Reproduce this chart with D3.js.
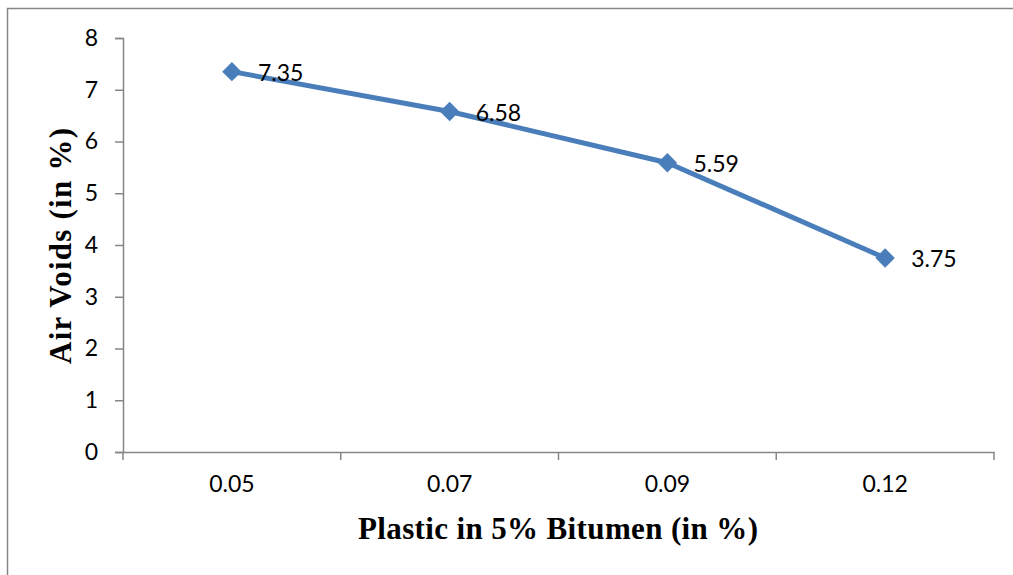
<!DOCTYPE html>
<html>
<head>
<meta charset="utf-8">
<script src="https://cdn.jsdelivr.net/npm/d3@7"></script>
<style>
  body { margin: 0; background: #fff; }
  svg { display: block; }
</style>
</head>
<body>
<div id="chart"></div>
<script>
// data
var categories = ['0.05', '0.07', '0.09', '0.12'];
var airVoids = [7.35, 6.58, 5.59, 3.75];
var yTicks = [0, 1, 2, 3, 4, 5, 6, 7, 8];

var W = 1013, H = 575;
var margin = { top: 38, right: 19, bottom: 123, left: 123 };
var width = W - margin.left - margin.right,
    height = H - margin.top - margin.bottom;

var svg = d3.select('#chart').append('svg')
  .attr('width', W)
  .attr('height', H);

// chart border
svg.append('rect')
  .attr('x', 7.5).attr('y', 8.5)
  .attr('width', W + 10).attr('height', H + 10)
  .attr('fill', 'none')
  .attr('stroke', '#868686')
  .attr('stroke-width', 1.5);

var g = svg.append('g')
  .attr('transform', 'translate(' + margin.left + ',' + margin.top + ')');

// scales
var x = d3.scaleBand().domain(categories).range([0, width]);
var y = d3.scaleLinear().domain([0, 8]).range([height, 0]);

var axisColor = '#868686';
var tickFont = 'Lato, "Open Sans", sans-serif';
var titleFont = '"Liberation Serif", "Times New Roman", serif';

// y axis
var yAxis = d3.axisLeft(y).tickValues(yTicks).tickSize(8).tickPadding(17);
var gY = g.append('g').call(yAxis);
gY.select('.domain').attr('stroke', axisColor).attr('stroke-width', 1.5);
gY.selectAll('.tick line').attr('stroke', axisColor).attr('stroke-width', 1.5);
gY.selectAll('.tick text')
  .attr('fill', '#000')
  .style('font-family', tickFont)
  .style('font-size', '23px');

// x axis
var xAxis = d3.axisBottom(x).tickSize(0).tickPadding(24);
var gX = g.append('g')
  .attr('transform', 'translate(0,' + height + ')')
  .call(xAxis);
gX.select('.domain').attr('stroke', axisColor).attr('stroke-width', 1.5);
gX.selectAll('.tick text')
  .attr('fill', '#000')
  .style('font-family', tickFont)
  .style('font-size', '23px');

// category boundary ticks
var bounds = categories.map(function(c) { return x(c); }).concat([x.range()[1]]);
gX.selectAll('.bound')
  .data(bounds)
  .enter().append('line')
  .attr('class', 'bound')
  .attr('x1', function(d) { return d; })
  .attr('x2', function(d) { return d; })
  .attr('y1', 0)
  .attr('y2', 8)
  .attr('stroke', axisColor)
  .attr('stroke-width', 1.5);

var cx = function(d, i) { return x(categories[i]) + x.bandwidth() / 2; };

// line
var line = d3.line()
  .x(function(d, i) { return cx(d, i); })
  .y(function(d) { return y(d); });

g.append('path')
  .datum(airVoids)
  .attr('d', line)
  .attr('fill', 'none')
  .attr('stroke', '#4a7ebb')
  .attr('stroke-width', 5)
  .attr('stroke-linejoin', 'round');

// diamond markers
g.selectAll('.marker')
  .data(airVoids)
  .enter().append('path')
  .attr('class', 'marker')
  .attr('d', d3.symbol().type(d3.symbolDiamond2).size(240))
  .attr('transform', function(d, i) {
    return 'translate(' + cx(d, i) + ',' + y(d) + ')';
  })
  .attr('fill', '#4a7ebb');

// data labels
g.selectAll('.lbl')
  .data(airVoids)
  .enter().append('text')
  .attr('class', 'lbl')
  .attr('x', function(d, i) { return cx(d, i) + 26; })
  .attr('y', function(d) { return y(d) + 1; })
  .attr('dy', '0.35em')
  .style('font-family', tickFont)
  .style('font-size', '23px')
  .text(function(d) { return d.toFixed(2); });

// axis titles
svg.append('text')
  .attr('transform', 'translate(71,' + 246 + ') rotate(-90)')
  .attr('text-anchor', 'middle')
  .attr('textLength', 236)
  .attr('lengthAdjust', 'spacing')
  .style('font-family', titleFont)
  .style('font-weight', 'bold')
  .style('font-size', '31px')
  .text('Air Voids (in %)');

svg.append('text')
  .attr('x', 558)
  .attr('y', 539)
  .attr('text-anchor', 'middle')
  .attr('textLength', 400)
  .attr('lengthAdjust', 'spacing')
  .style('font-family', titleFont)
  .style('font-weight', 'bold')
  .style('font-size', '31px')
  .text('Plastic in 5% Bitumen (in %)');
</script>
</body>
</html>
